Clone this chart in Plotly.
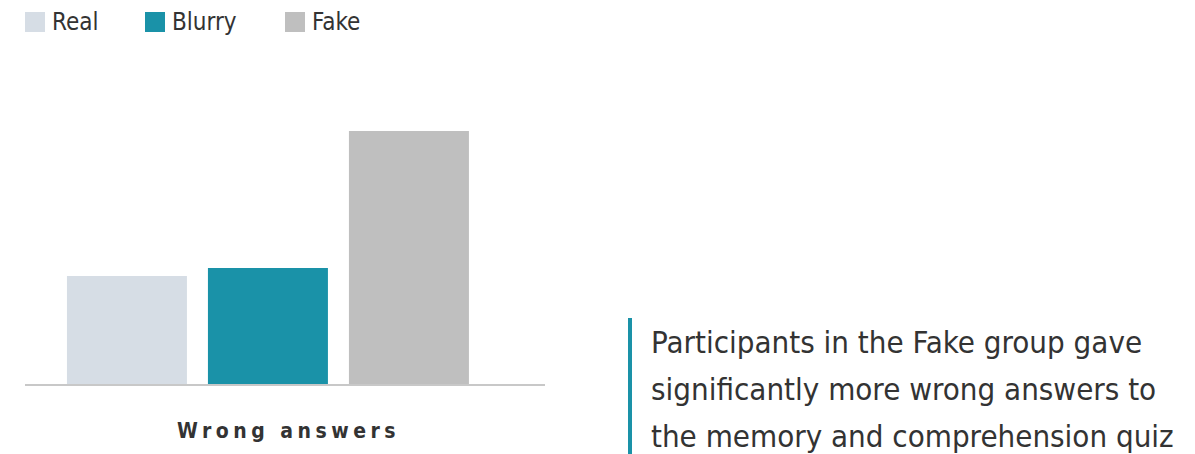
import plotly.graph_objects as go

# Data
groups = ["Real", "Blurry", "Fake"]
wrong_answers = [1.08, 1.16, 2.53]
colors = ["#d6dde5", "#1a92a8", "#bfbfbf"]
category_label = "Wrong answers"
note_lines = [
    "Participants in the Fake group gave",
    "significantly more wrong answers to",
    "the memory and comprehension quiz",
]

W, H = 1195, 454
M_L, M_R, M_T, M_B = 25, 650, 60, 70
PW = W - M_L - M_R
PH = H - M_T - M_B


def px_x(px):
    return (px - M_L) / PW


def px_y(py):
    return (H - M_B - py) / PH


FONT = "DejaVu Sans Condensed, DejaVu Sans"
TXT = "#333333"

fig = go.Figure(
    go.Bar(
        x=groups,
        y=wrong_answers,
        marker=dict(color=colors, line=dict(width=0)),
        width=0.851,
        hoverinfo="x+y",
    )
)

shapes = []
annotations = []

# legend built from the group names and colours
leg_x = [25, 145, 285]
for name, col, lx in zip(groups, colors, leg_x):
    shapes.append(dict(type="rect", xref="paper", yref="paper",
                       x0=px_x(lx), x1=px_x(lx + 20), y0=px_y(32), y1=px_y(12),
                       fillcolor=col, line=dict(width=0), layer="above"))
    annotations.append(dict(xref="paper", yref="paper", x=px_x(lx + 25), y=px_y(22),
                            xanchor="left", yanchor="middle", showarrow=False,
                            text=name, font=dict(family=FONT, size=24, color=TXT)))

# category label under the baseline
annotations.append(dict(xref="paper", yref="paper", x=px_x(288), y=px_y(431),
                        xanchor="center", yanchor="middle", showarrow=False,
                        text=f'<span style="letter-spacing:4.5px"><b>{category_label}</b></span>',
                        font=dict(family=FONT, size=21, color=TXT)))

# side note with accent bar
shapes.append(dict(type="line", xref="paper", yref="paper",
                   x0=px_x(630), x1=px_x(630), y0=px_y(454), y1=px_y(318),
                   line=dict(color="#1a92a8", width=4)))
for i, line in enumerate(note_lines):
    annotations.append(dict(xref="paper", yref="paper", x=px_x(649), y=px_y(342 + 47 * i),
                            xanchor="left", yanchor="middle", showarrow=False,
                            text=line, font=dict(family=FONT, size=31, color=TXT)))

fig.update_layout(
    width=W, height=H,
    margin=dict(l=M_L, r=M_R, t=M_T, b=M_B),
    paper_bgcolor="white", plot_bgcolor="white",
    showlegend=False,
    shapes=shapes,
    annotations=annotations,
    xaxis=dict(range=[-0.723, 2.965], showticklabels=False, ticks="",
               showgrid=False, zeroline=False, showline=True,
               linecolor="#c8c8c8", linewidth=2, fixedrange=True),
    yaxis=dict(range=[0, 3.24], visible=False, showgrid=False, fixedrange=True),
)

fig.write_html("out.html", config={"displayModeBar": False})
